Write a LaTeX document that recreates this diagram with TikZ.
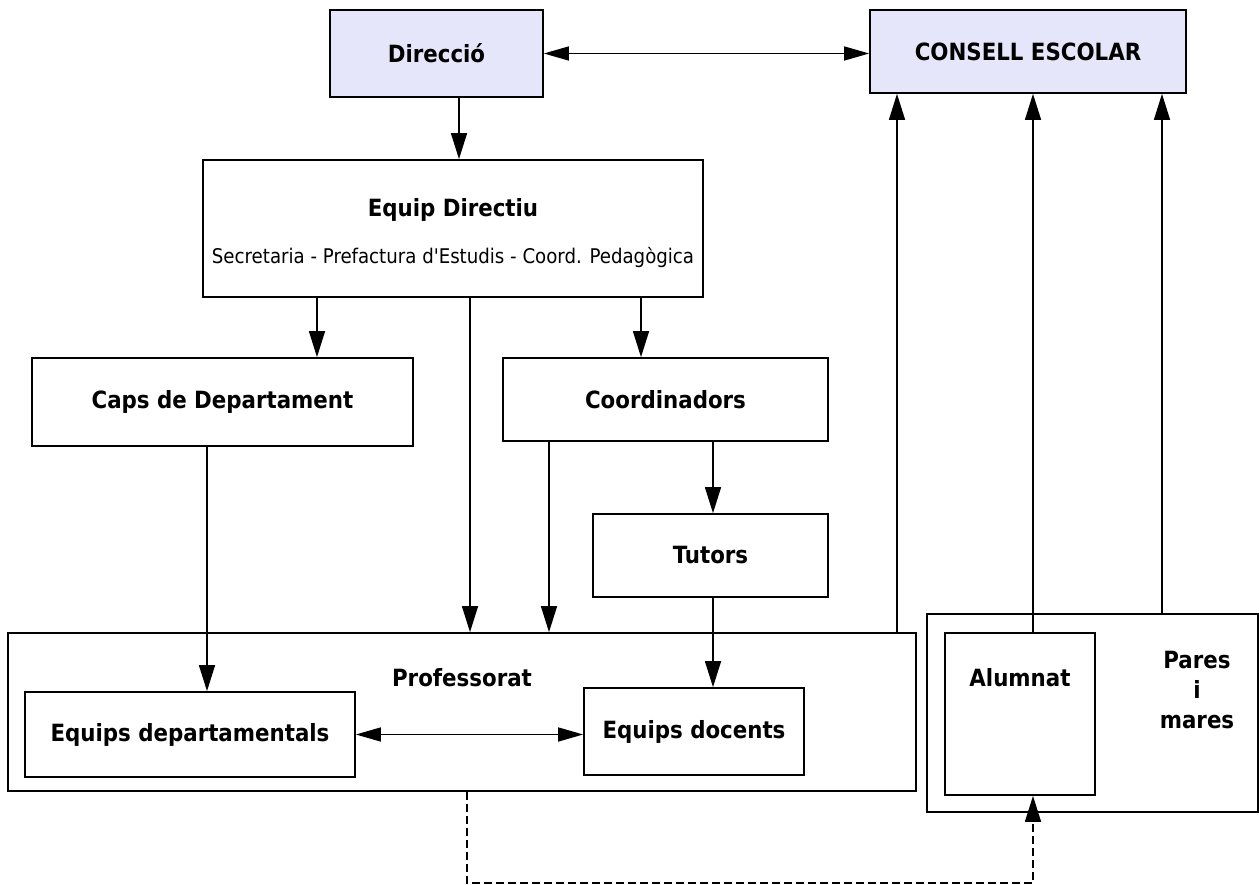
\documentclass[tikz,border=0pt]{standalone}
\usepackage{fontspec}
\setmainfont{DejaVu Sans Condensed}
\usetikzlibrary{arrows.meta}
\definecolor{headfill}{RGB}{230,230,250}
\begin{document}
\begin{tikzpicture}[x=0.02cm,y=-0.02cm,
  orgbox/.style={draw,line width=1pt,inner sep=0pt,font=\fontsize{13.5}{16}\selectfont\bfseries},
  headbox/.style={orgbox,fill=headfill},
  lbl/.style={inner sep=0pt,align=center,font=\fontsize{13.5}{17}\selectfont\bfseries},
  arr/.style={line width=0.8pt,-{Triangle[length=0.52cm,width=0.32cm]}},
  darr/.style={line width=0.8pt,{Triangle[length=0.5cm,width=0.28cm]}-{Triangle[length=0.5cm,width=0.28cm]}},
  dashline/.style={line width=0.8pt,dash pattern=on 0.16cm off 0.08cm,-{Triangle[length=0.52cm,width=0.32cm]}}]

\useasboundingbox (0,0) rectangle (1259,885);

% top row
\node[headbox,minimum width=4.26cm,minimum height=1.74cm] (dir) at (436.5,53.5) {Direcció};
\node[headbox,minimum width=6.32cm,minimum height=1.66cm] (consell) at (1028,51.5) {CONSELL ESCOLAR};

% equip directiu
\node[orgbox,minimum width=10cm,minimum height=2.74cm] (equip) at (453,228.5) {};
\node[lbl] (equipT) at (453,210) {Equip Directiu};
\node[inner sep=0pt,font=\fontsize{11.5}{14}\selectfont] (equipS) at (453,258) {Secretaria - Prefactura d\textquotesingle Estudis - Coord. Pedagògica};

% middle
\node[orgbox,minimum width=7.62cm,minimum height=1.76cm] (caps) at (222.5,402) {Caps de Departament};
\node[orgbox,minimum width=6.5cm,minimum height=1.66cm] (coord) at (665.5,399.5) {Coordinadors};
\node[orgbox,minimum width=4.7cm,minimum height=1.66cm] (tutors) at (710.5,555.5) {Tutors};

% professorat
\node[orgbox,minimum width=18.16cm,minimum height=3.16cm] (prof) at (462,712) {};
\node[lbl] (profT) at (462,678) {Professorat};
\node[orgbox,minimum width=6.6cm,minimum height=1.7cm] (eqdep) at (190,734.5) {Equips departamentals};
\node[orgbox,minimum width=4.4cm,minimum height=1.74cm] (eqdoc) at (694,731.5) {Equips docents};

% alumnat i families
\node[orgbox,minimum width=6.62cm,minimum height=3.96cm] (fam) at (1092.5,713) {};
\node[orgbox,minimum width=3cm,minimum height=3.24cm] (alum) at (1020,714) {};
\node[lbl] (alumT) at (1020,678) {Alumnat};
\node[lbl] (pares) at (1197,690) {Pares\\i\\mares};

% columns of the connectors
\coordinate (xa) at (207,0);
\coordinate (xb) at (317,0);
\coordinate (x0) at (459,0);
\coordinate (xc) at (470,0);
\coordinate (xd) at (549,0);
\coordinate (xe) at (641,0);
\coordinate (xf) at (713,0);
\coordinate (xg) at (897,0);
\coordinate (xh) at (1033,0);
\coordinate (xi) at (1162,0);
\coordinate (dashlow) at (467,883);

\draw[darr] (dir.east) -- (dir.east -| consell.west);
\draw[arr] (x0 |- dir.south) -- (x0 |- equip.north);
\draw[arr] (xb |- equip.south) -- (xb |- caps.north);
\draw[arr] (xe |- equip.south) -- (xe |- coord.north);
\draw[arr] (xc |- equip.south) -- (xc |- prof.north);
\draw[arr] (xd |- coord.south) -- (xd |- prof.north);
\draw[arr] (xf |- coord.south) -- (xf |- tutors.north);
\draw[arr] (xf |- tutors.south) -- (xf |- eqdoc.north);
\draw[arr] (xa |- caps.south) -- (xa |- eqdep.north);
\draw[darr] (eqdep.east) -- (eqdep.east -| eqdoc.west);

% to the consell
\draw[arr] (xg |- prof.north) -- (xg |- consell.south);
\draw[arr] (xh |- alum.north) -- (xh |- consell.south);
\draw[arr] (xi |- fam.north) -- (xi |- consell.south);

\draw[dashline] (dashlow |- prof.south) -- (dashlow) -| (xh |- alum.south);

\end{tikzpicture}
\end{document}
